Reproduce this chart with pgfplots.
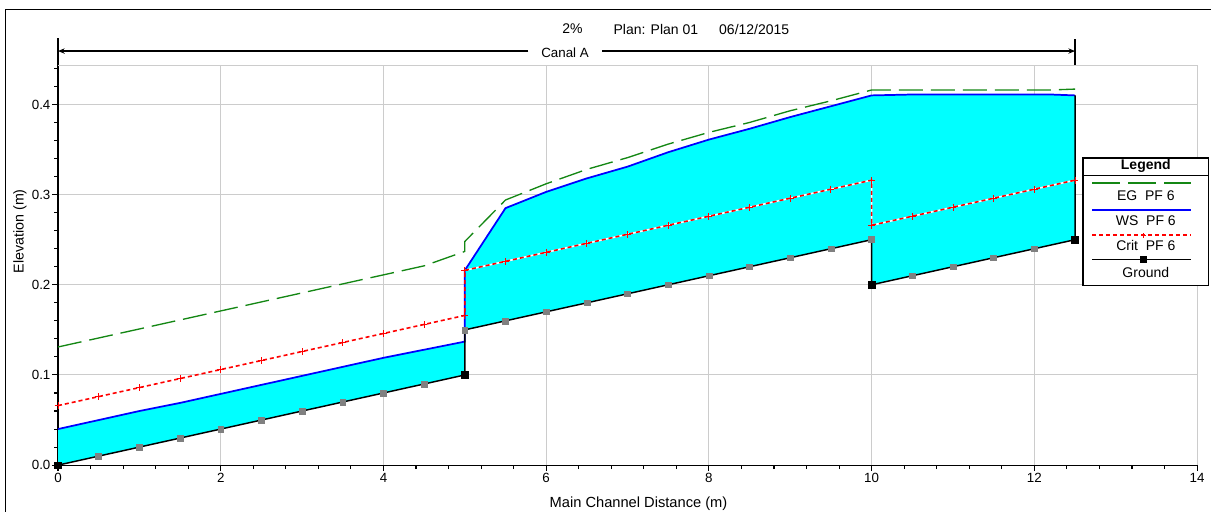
\documentclass[border=0pt]{standalone}
\usepackage{fontspec}
\setmainfont{Liberation Sans}
\usepackage{pgfplots}
\pgfplotsset{compat=1.18}
\usetikzlibrary{arrows.meta}
\definecolor{cyanfill}{RGB}{0,255,255}
\definecolor{egg}{RGB}{20,135,20}
\definecolor{gridg}{RGB}{204,204,204}
\definecolor{gsq}{RGB}{128,128,128}
\definecolor{wsblue}{RGB}{0,0,255}
\definecolor{critred}{RGB}{255,0,0}
\begin{document}
\fontsize{10.5}{12}\selectfont
\begin{tikzpicture}
\begin{axis}[
  scale only axis, width=854.25pt, height=300pt,
  xmin=0, xmax=14, ymin=0, ymax=0.4436,
  axis x line*=bottom, axis y line*=left,
  axis line style={-, black, line width=0.9pt},
  xtick={0,2,4,6,8,10,12,14}, ytick={0,0.1,0.2,0.3,0.4},
  minor xtick={0.4,0.8,1.2,1.6,2.4,2.8,3.2,3.6,4.4,4.8,5.2,5.6,6.4,6.8,7.2,7.6,8.4,8.8,9.2,9.6,10.4,10.8,11.2,11.6,12.4,12.8,13.2,13.6},
  minor ytick={0.02,0.04,0.06,0.08,0.12,0.14,0.16,0.18,0.22,0.24,0.26,0.28,0.32,0.34,0.36,0.38,0.42,0.44},
  tick align=outside, major tick length=4.5pt, minor tick length=3pt,
  tick style={black, line width=0.8pt},
  grid=major, major grid style={gridg, line width=0.75pt},
  /pgf/number format/assume math mode=true,
  tick label style={font=\fontsize{10}{12}\selectfont},
  yticklabel style={inner sep=1pt, /pgf/number format/fixed, /pgf/number format/fixed zerofill, /pgf/number format/precision=1},
  xticklabel style={inner sep=1.5pt},
  clip=false,
]
% fills
\addplot[draw=none, fill=cyanfill] coordinates {(0,0)(0,0.040)(0.5,0.050)(1,0.060)(1.5,0.069)(2,0.079)(2.5,0.089)(3,0.099)(3.5,0.109)(4,0.119)(4.5,0.128)(5,0.137)(5,0.1)};
\addplot[draw=none, fill=cyanfill] coordinates {(5,0.15)(5,0.216)(5.5,0.285)(6,0.303)(6.5,0.318)(7,0.331)(7.5,0.347)(8,0.361)(8.5,0.373)(9,0.386)(9.5,0.398)(10,0.410)(10.5,0.411)(11,0.411)(11.5,0.411)(12,0.411)(12.2,0.411)(12.5,0.410)(12.5,0.25)(10,0.2)(10,0.25)};
% EG
\addplot[egg, line width=1pt, dash pattern=on 18pt off 6pt] coordinates {(0,0.131)(0.5,0.141)(1,0.151)(1.5,0.161)(2,0.171)(2.5,0.181)(3,0.191)(3.5,0.201)(4,0.211)(4.5,0.221)(5,0.237)(5,0.248)(5.5,0.294)(6,0.312)(6.5,0.328)(7,0.341)(7.5,0.356)(8,0.369)(8.5,0.380)(9,0.393)(9.5,0.404)(10,0.416)(12.2,0.416)(12.5,0.417)};
% WS
\addplot[wsblue, line width=1.3pt] coordinates {(0,0.040)(0.5,0.050)(1,0.060)(1.5,0.069)(2,0.079)(2.5,0.089)(3,0.099)(3.5,0.109)(4,0.119)(4.5,0.128)(5,0.137)(5,0.216)(5.5,0.285)(6,0.303)(6.5,0.318)(7,0.331)(7.5,0.347)(8,0.361)(8.5,0.373)(9,0.386)(9.5,0.398)(10,0.410)(10.5,0.411)(11,0.411)(11.5,0.411)(12,0.411)(12.2,0.411)(12.5,0.410)};
% Crit
\addplot[white, line width=1.2pt, forget plot] coordinates {(5,0.216)(10,0.316)(10,0.266)(12.5,0.316)};
\addplot[critred, line width=1.2pt, dash pattern=on 3pt off 2.25pt, mark=+, mark size=2.5pt, mark options={solid, line width=0.7pt}] coordinates {(0,0.066)(0.5,0.076)(1,0.086)(1.5,0.096)(2,0.106)(2.5,0.116)(3,0.126)(3.5,0.136)(4,0.146)(4.5,0.156)(5,0.166)(5,0.216)(5.5,0.226)(6,0.236)(6.5,0.246)(7,0.256)(7.5,0.266)(8,0.276)(8.5,0.286)(9,0.296)(9.5,0.306)(10,0.316)(10,0.266)(10.5,0.276)(11,0.286)(11.5,0.296)(12,0.306)(12.5,0.316)};
% Ground
\addplot[black, line width=1.1pt] coordinates {(0,0)(5,0.1)(5,0.15)(10,0.25)(10,0.2)(12.5,0.25)(12.5,0.410)};
\addplot[only marks, mark=square*, mark size=2.2pt, gsq] coordinates {(0.5,0.01)(1,0.02)(1.5,0.03)(2,0.04)(2.5,0.05)(3,0.06)(3.5,0.07)(4,0.08)(4.5,0.09)(5,0.15)(5.5,0.16)(6,0.17)(6.5,0.18)(7,0.19)(7.5,0.20)(8,0.21)(8.5,0.22)(9,0.23)(9.5,0.24)(10,0.25)(10.5,0.21)(11,0.22)(11.5,0.23)(12,0.24)};
\addplot[only marks, mark=square*, mark size=2.5pt, black] coordinates {(0,0)(5,0.1)(10,0.2)(12.5,0.25)};
% decorations
\draw[gridg, line width=0.75pt] (axis cs:0,0.4436) -- (axis cs:14,0.4436);
\draw[black, line width=0.9pt] (axis cs:0,0.4436) -- (axis cs:0,0.4736);
\draw[black, line width=0.9pt] (axis cs:12.5,0.4436) -- (axis cs:12.5,0.4725);
\draw[black, line width=0.9pt, -{Stealth[length=5pt,width=4pt]}] (axis cs:5.78,0.4592) -- (axis cs:0,0.4592);
\draw[black, line width=0.9pt, -{Stealth[length=5pt,width=4pt]}] (axis cs:6.69,0.4592) -- (axis cs:12.5,0.4592);
\node[font=\fontsize{10}{12}\selectfont] at (axis cs:6.232,0.4573) {Canal A};
\node at (axis cs:6.324,0.4836) {2\%};
\node at (axis cs:7.348,0.4836) {Plan: Plan 01};
\node at (axis cs:8.557,0.4836) {06/12/2015};
\node[font=\fontsize{11}{13}\selectfont] at (axis cs:7.135,-0.0428) {Main Channel Distance (m)};
\node[rotate=90, font=\fontsize{10.7}{13}\selectfont] at (axis cs:-0.467,0.2593) {Elevation (m)};
% frame
\draw[black, line width=1.2pt] (axis cs:-0.645,-0.0516) -- (axis cs:-0.645,0.5053) -- (axis cs:14.171,0.5053);
% legend anchors
\coordinate (LBL) at (axis cs:12.60,0.1993);
\coordinate (LTR) at (axis cs:14.14,0.3404);
\coordinate (LH) at (axis cs:12.60,0.3212);
\coordinate (LHR) at (axis cs:14.14,0.3212);
\coordinate (Ltitle) at (axis cs:13.37,0.3315);
\coordinate (EGa) at (axis cs:12.71,0.3129);
\coordinate (EGb) at (axis cs:13.93,0.3129);
\coordinate (EGt) at (axis cs:13.37,0.2993);
\coordinate (WSa) at (axis cs:12.71,0.2834);
\coordinate (WSb) at (axis cs:13.93,0.2834);
\coordinate (WSt) at (axis cs:13.37,0.2707);
\coordinate (CRa) at (axis cs:12.71,0.2549);
\coordinate (CRb) at (axis cs:13.93,0.2549);
\coordinate (CRm) at (axis cs:13.34,0.2549);
\coordinate (CRt) at (axis cs:13.37,0.2437);
\coordinate (GRa) at (axis cs:12.71,0.2279);
\coordinate (GRb) at (axis cs:13.93,0.2279);
\coordinate (GRm) at (axis cs:13.34,0.2279);
\coordinate (GRt) at (axis cs:13.37,0.2141);
\coordinate (BL) at (axis cs:-0.713,-0.0516);
\coordinate (TR) at (axis cs:14.171,0.5158);
\end{axis}
% legend
\draw[black, line width=1.2pt, fill=white] (LBL) rectangle (LTR);
\draw[black, line width=1.2pt] (LH) -- (LHR);
\node[font=\bfseries\fontsize{10.5}{12}\selectfont] at (Ltitle) {Legend};
\draw[egg, line width=1pt, dash pattern=on 21pt off 6pt] (EGa) -- (EGb);
\node at (EGt) {EG\ \ PF 6};
\draw[wsblue, line width=1.4pt] (WSa) -- (WSb);
\node at (WSt) {WS\ \ PF 6};
\draw[critred, line width=1.4pt, dash pattern=on 3pt off 2.25pt] (CRa) -- (CRb);
\draw[critred, line width=0.8pt] (CRm) ++(-2pt,0) -- ++(4pt,0) (CRm) ++(0,-2pt) -- ++(0,4pt);
\node at (CRt) {Crit\ \ PF 6};
\draw[black, line width=1.1pt] (GRa) -- (GRb);
\fill[black] (GRm) ++(-2.5pt,-2.5pt) rectangle ++(5pt,5pt);
\node at (GRt) {Ground};
\pgfresetboundingbox
\path[use as bounding box] (BL) rectangle (TR);
\end{tikzpicture}
\end{document}
